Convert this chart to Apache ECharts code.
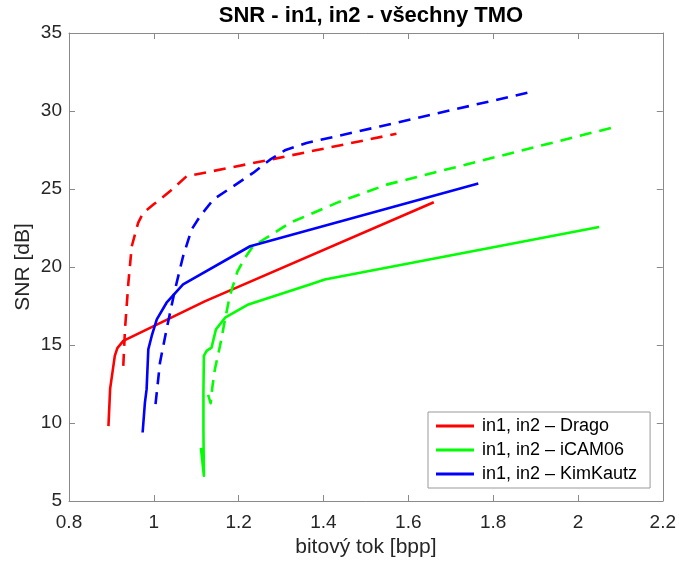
<!DOCTYPE html>
<html>
<head>
<meta charset="utf-8">
<script src="https://cdn.jsdelivr.net/npm/echarts@6/dist/echarts.min.js"></script>
<style>
  html, body { margin: 0; padding: 0; background: #fff; }
  #chart { width: 679px; height: 563px; }
</style>
</head>
<body>
<div id="chart"></div>
<script>
// Rate–SNR curves: [bit rate (bpp), SNR (dB)]
const dragoSolid = [[0.893, 9.8], [0.897, 12.2], [0.908, 14.3], [0.914, 14.8], [0.928, 15.26], [1.12, 17.8], [1.66, 24.15]];
const dragoDashed = [[0.928, 13.66], [0.932, 16.0], [0.940, 19.0], [0.948, 21.33], [0.963, 22.83], [0.975, 23.47], [0.999, 24.0], [1.038, 24.85], [1.077, 25.81], [1.117, 26.03], [1.274, 26.88], [1.572, 28.54]];
const icamSolid = [[1.111, 8.4], [1.118, 6.62], [1.117, 9.5], [1.117, 12.0], [1.118, 14.3], [1.1245, 14.62], [1.136, 14.83], [1.1465, 16.0], [1.168, 16.75], [1.223, 17.6], [1.368, 18.88], [1.403, 19.2], [2.05, 22.57]];
const icamDashed = [[1.128, 11.8], [1.134, 11.27], [1.138, 12.3], [1.144, 13.45], [1.156, 14.94], [1.168, 16.64], [1.179, 18.13], [1.197, 19.7], [1.215, 20.6], [1.234, 21.33], [1.321, 22.83], [1.431, 24.11], [1.549, 25.28], [2.083, 28.95]];
const kimSolid = [[0.9736, 9.39], [0.979, 11.31], [0.983, 12.17], [0.987, 14.72], [0.995, 15.58], [1.007, 16.64], [1.030, 17.71], [1.069, 18.88], [1.227, 21.33], [1.765, 25.35]];
const kimDashed = [[1.004, 11.21], [1.0145, 13.87], [1.030, 16.0], [1.050, 18.56], [1.069, 20.69], [1.089, 22.4], [1.109, 23.25], [1.140, 24.32], [1.187, 25.17], [1.234, 26.03], [1.274, 26.88], [1.309, 27.48], [1.360, 27.95], [1.533, 29.01], [1.894, 31.25]];

const legendNames = ['in1, in2 – Drago', 'in1, in2 – iCAM06', 'in1, in2 – KimKautz'];
const xTicks = { min: 0.8, max: 2.2, step: 0.2 };
const yTicks = { min: 5, max: 35, step: 5 };

const FONT = '"Liberation Sans", Arial, Helvetica, sans-serif';
const AXIS_GRAY = '#8a8a8a';
const TEXT_DARK = '#262626';
const LW = 2.6;
const DASH = [12, 8];

function curve(name, data, color, dashed) {
  return {
    name: name,
    type: 'line',
    data: data,
    showSymbol: false,
    symbol: 'none',
    smooth: false,
    animation: false,
    color: color,
    lineStyle: { color: color, width: LW, type: dashed ? DASH : 'solid', cap: 'butt', join: 'round' }
  };
}

const chart = echarts.init(document.getElementById('chart'), null, { renderer: 'canvas' });

const frameAxis = {
  axisLine: { show: true, lineStyle: { color: AXIS_GRAY, width: 1 } },
  axisTick: { show: true, inside: true, length: 6, lineStyle: { color: AXIS_GRAY, width: 1 } },
  splitLine: { show: false }
};

chart.setOption({
  backgroundColor: '#fff',
  animation: false,
  title: {
    text: 'SNR - in1, in2 - všechny TMO',
    left: 366, top: 0, textAlign: 'center',
    textStyle: { fontFamily: FONT, fontSize: 22, fontWeight: 'bold', color: '#000' }
  },
  grid: { left: 69, right: 16, top: 33, bottom: 61, containLabel: false },
  legend: {
    data: legendNames,
    orient: 'vertical',
    left: 428, top: 412,
    padding: [5, 13, 5, 8],
    itemGap: 6,
    itemWidth: 38,
    itemHeight: 3,
    icon: 'rect',
    backgroundColor: '#fff',
    borderColor: '#999',
    borderWidth: 1,
    borderRadius: 0,
    textStyle: { fontFamily: FONT, fontSize: 18, color: '#000', padding: [0, 0, 0, 3] }
  },
  xAxis: [
    Object.assign({
      type: 'value', position: 'bottom',
      min: xTicks.min, max: xTicks.max, interval: xTicks.step,
      name: 'bitový tok [bpp]', nameLocation: 'middle', nameGap: 36, nameMoveOverlap: false,
      nameTextStyle: { fontFamily: FONT, fontSize: 21, color: TEXT_DARK },
      axisLabel: { fontFamily: FONT, fontSize: 19, color: TEXT_DARK, margin: 12,
        formatter: v => String(Math.round(v * 10) / 10) }
    }, frameAxis),
    Object.assign({
      type: 'value', position: 'top',
      min: xTicks.min, max: xTicks.max, interval: xTicks.step,
      axisLabel: { show: false }
    }, frameAxis)
  ],
  yAxis: [
    Object.assign({
      type: 'value', position: 'left',
      min: yTicks.min, max: yTicks.max, interval: yTicks.step,
      name: 'SNR [dB]', nameLocation: 'middle', nameGap: 35, nameMoveOverlap: false,
      nameTextStyle: { fontFamily: FONT, fontSize: 21, color: TEXT_DARK },
      axisLabel: { fontFamily: FONT, fontSize: 19, color: TEXT_DARK, margin: 7 }
    }, frameAxis),
    Object.assign({
      type: 'value', position: 'right',
      min: yTicks.min, max: yTicks.max, interval: yTicks.step,
      axisLabel: { show: false }
    }, frameAxis)
  ],
  series: [
    curve(legendNames[0], dragoSolid, '#ff0000', false),
    curve('Drago – in2 (dashed)', dragoDashed, '#ff0000', true),
    curve(legendNames[1], icamSolid, '#00ff00', false),
    curve('iCAM06 – in2 (dashed)', icamDashed, '#00ff00', true),
    curve(legendNames[2], kimSolid, '#0000ff', false),
    curve('KimKautz – in2 (dashed)', kimDashed, '#0000ff', true)
  ]
});
</script>
</body>
</html>
